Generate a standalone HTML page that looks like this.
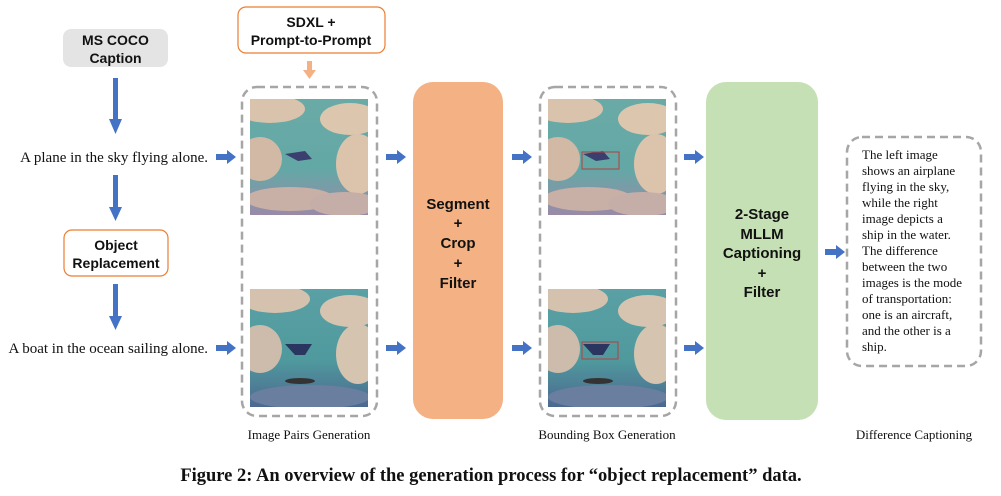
<!DOCTYPE html>
<html><head><meta charset="utf-8"><style>
html,body{margin:0;padding:0;background:#fff;}
svg{display:block;}
.sans{font-family:"Liberation Sans",sans-serif;font-weight:bold;font-size:14px;fill:#111;}
.ser{font-family:"Liberation Serif",serif;fill:#111;}
</style></head><body>
<svg width="1001" height="496" viewBox="0 0 1001 496" xmlns="http://www.w3.org/2000/svg">
<defs>
<linearGradient id="sky1" x1="0" y1="0" x2="0" y2="1">
<stop offset="0" stop-color="#6aaaa6"/><stop offset="0.6" stop-color="#63a8a6"/><stop offset="1" stop-color="#9a8aa8"/></linearGradient>
<linearGradient id="sky2" x1="0" y1="0" x2="0" y2="1">
<stop offset="0" stop-color="#5aa0a4"/><stop offset="0.6" stop-color="#4f9a9e"/><stop offset="1" stop-color="#4c6890"/></linearGradient>
<clipPath id="c1"><rect width="118" height="116"/></clipPath>
<clipPath id="c2"><rect width="118" height="118"/></clipPath>
<g id="img1" clip-path="url(#c1)">
<rect width="118" height="116" fill="url(#sky1)"/>
<ellipse cx="20" cy="10" rx="35" ry="14" fill="#d9c3ac"/>
<ellipse cx="100" cy="20" rx="30" ry="16" fill="#dcc6ae"/>
<ellipse cx="10" cy="60" rx="22" ry="22" fill="#d2b9a6"/>
<ellipse cx="108" cy="65" rx="22" ry="30" fill="#dcc4ac"/>
<ellipse cx="40" cy="100" rx="45" ry="12" fill="#c9b0a6"/>
<ellipse cx="95" cy="105" rx="35" ry="12" fill="#c6aea8"/>
<path d="M35 55 L55 52 L62 60 L48 62 Z" fill="#3a3f70"/>
</g>
<g id="img2" clip-path="url(#c2)">
<rect width="118" height="118" fill="url(#sky2)"/>
<ellipse cx="25" cy="10" rx="35" ry="14" fill="#d4c2ae"/>
<ellipse cx="100" cy="22" rx="30" ry="16" fill="#d6c4b0"/>
<ellipse cx="10" cy="60" rx="22" ry="24" fill="#cdbcac"/>
<ellipse cx="108" cy="65" rx="22" ry="30" fill="#d4c4b0"/>
<ellipse cx="60" cy="108" rx="60" ry="12" fill="#6a7ea0"/>
<ellipse cx="50" cy="92" rx="15" ry="3" fill="#333"/>
<path d="M35 55 L62 55 L55 66 L45 66 Z" fill="#2a3660"/>
</g>
<g id="ha"><rect x="0" y="-3" width="12" height="6"/><polygon points="11,-7 11,7 20,0"/></g>
</defs>

<!-- MS COCO -->
<rect x="63" y="29" width="105" height="38" rx="8" fill="#e4e4e4"/>
<text class="sans" x="115.5" y="45" text-anchor="middle">MS COCO</text>
<text class="sans" x="115.5" y="63" text-anchor="middle">Caption</text>

<g fill="#4472c4">
<rect x="113" y="78" width="5" height="42"/><polygon points="109,119 122,119 115.5,134"/>
<rect x="113" y="175" width="5" height="33"/><polygon points="109,207 122,207 115.5,221"/>
<rect x="113" y="284" width="5" height="33"/><polygon points="109,316 122,316 115.5,330"/>
</g>

<text class="ser" x="208" y="162" font-size="15" text-anchor="end">A plane in the sky flying alone.</text>
<text class="ser" x="208" y="353" font-size="15" text-anchor="end">A boat in the ocean sailing alone.</text>

<rect x="64" y="230" width="104" height="46" rx="8" fill="#fff" stroke="#ed7d31" stroke-width="1.2"/>
<text class="sans" x="116" y="250" text-anchor="middle">Object</text>
<text class="sans" x="116" y="268" text-anchor="middle">Replacement</text>

<rect x="238" y="7" width="147" height="46" rx="8" fill="#fff" stroke="#ed7d31" stroke-width="1.2"/>
<text class="sans" x="311" y="27" text-anchor="middle">SDXL +</text>
<text class="sans" x="311" y="45" text-anchor="middle">Prompt-to-Prompt</text>
<rect x="307" y="61" width="5" height="10" fill="#f4b183"/><polygon points="303,70 316,70 309.5,79" fill="#f4b183"/>

<g fill="#4472c4">
<use href="#ha" x="216" y="157"/><use href="#ha" x="216" y="348"/>
<use href="#ha" x="386" y="157"/><use href="#ha" x="386" y="348"/>
<use href="#ha" x="512" y="157"/><use href="#ha" x="512" y="348"/>
<use href="#ha" x="684" y="157"/><use href="#ha" x="684" y="348"/>
<use href="#ha" x="825" y="252"/>
</g>

<rect x="242" y="87" width="135" height="329" rx="15" fill="none" stroke="#a6a6a6" stroke-width="2.5" stroke-dasharray="8 5"/>
<use href="#img1" x="250" y="99"/>
<use href="#img2" x="250" y="289"/>

<rect x="413" y="82" width="90" height="337" rx="20" fill="#f4b183"/>
<g text-anchor="middle">
<text x="458" y="209" class="sans" style="font-size:15px">Segment</text>
<text x="458" y="228" class="sans" style="font-size:15px">+</text>
<text x="458" y="248" class="sans" style="font-size:15px">Crop</text>
<text x="458" y="268" class="sans" style="font-size:15px">+</text>
<text x="458" y="288" class="sans" style="font-size:15px">Filter</text>
</g>

<rect x="540" y="87" width="136" height="329" rx="15" fill="none" stroke="#a6a6a6" stroke-width="2.5" stroke-dasharray="8 5"/>
<use href="#img1" x="548" y="99"/>
<use href="#img2" x="548" y="289"/>
<rect x="582" y="152" width="37" height="17" fill="none" stroke="#b04040" stroke-width="1"/>
<rect x="582" y="342" width="36" height="17" fill="none" stroke="#b04040" stroke-width="1"/>

<rect x="706" y="82" width="112" height="338" rx="20" fill="#c5e0b4"/>
<g text-anchor="middle">
<text x="762" y="219" class="sans" style="font-size:15px">2-Stage</text>
<text x="762" y="239" class="sans" style="font-size:15px">MLLM</text>
<text x="762" y="258" class="sans" style="font-size:15px">Captioning</text>
<text x="762" y="278" class="sans" style="font-size:15px">+</text>
<text x="762" y="297" class="sans" style="font-size:15px">Filter</text>
</g>

<rect x="847" y="137" width="134" height="229" rx="15" fill="none" stroke="#a6a6a6" stroke-width="2.5" stroke-dasharray="8 5"/>
<g class="ser" font-size="13">
<text x="862" y="159">The left image</text>
<text x="862" y="175">shows an airplane</text>
<text x="862" y="191">flying in the sky,</text>
<text x="862" y="207">while the right</text>
<text x="862" y="223">image depicts a</text>
<text x="862" y="239">ship in the water.</text>
<text x="862" y="255">The difference</text>
<text x="862" y="271">between the two</text>
<text x="862" y="287">images is the mode</text>
<text x="862" y="303">of transportation:</text>
<text x="862" y="319">one is an aircraft,</text>
<text x="862" y="335">and the other is a</text>
<text x="862" y="351">ship.</text>
</g>

<g class="ser" font-size="13" text-anchor="middle">
<text x="309" y="439">Image Pairs Generation</text>
<text x="607" y="439">Bounding Box Generation</text>
<text x="914" y="439">Difference Captioning</text>
</g>

<text class="ser" x="491" y="481" font-size="18.5" font-weight="bold" text-anchor="middle">Figure 2: An overview of the generation process for “object replacement” data.</text>
</svg>
</body></html>
